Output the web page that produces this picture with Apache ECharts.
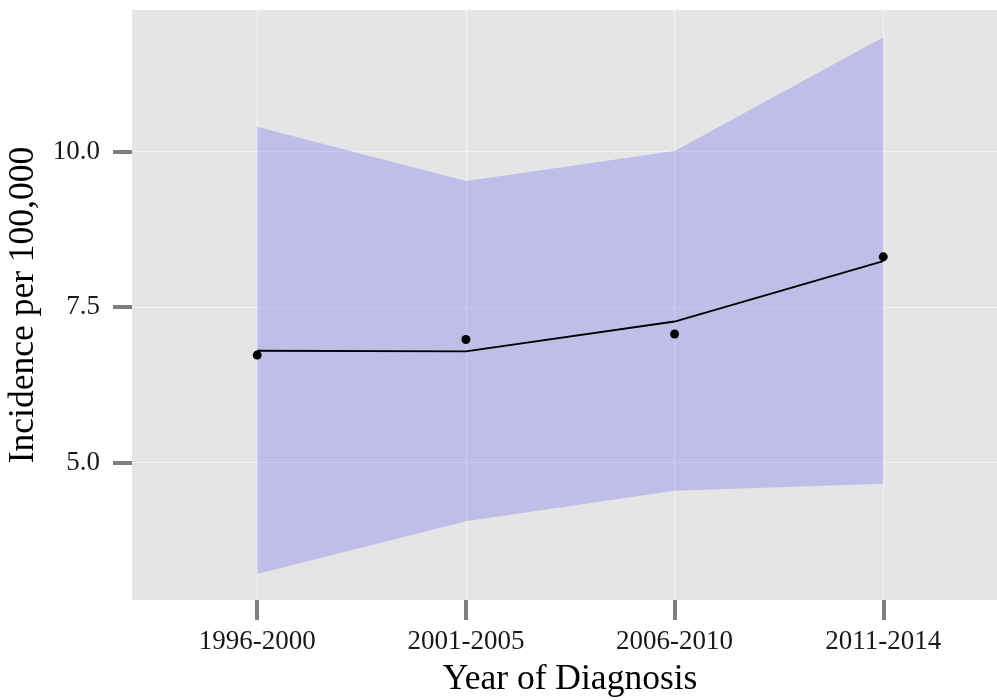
<!DOCTYPE html>
<html>
<head>
<meta charset="utf-8">
<style>
  html, body { margin: 0; padding: 0; background: #ffffff; }
  #chart { width: 997px; height: 700px; }
</style>
<script src="https://cdn.jsdelivr.net/npm/echarts@6/dist/echarts.min.js"></script>
</head>
<body>
<div id="chart"></div>
<script>
// Diagnosis periods shown along the x axis
const periods = ['1996-2000', '2001-2005', '2006-2010', '2011-2014'];
// Observed incidence per 100,000 (points)
const observed = [6.73, 6.98, 7.07, 8.31];
// Fitted trend (line)
const fitted = [6.80, 6.79, 7.27, 8.24];
// Confidence band limits
const lowerCI = [3.21, 4.06, 4.55, 4.66];
const upperCI = [10.40, 9.53, 10.01, 11.84];
// Y axis tick values
const yTicks = [5.0, 7.5, 10.0];

const idx = periods.map((_, i) => i);
const serif = '"Liberation Serif", "DejaVu Serif", serif';

// Ribbon polygon: upper limits left to right, then lower limits right to left
function renderBand(params, api) {
  if (params.dataIndex !== 0) return null;
  const pts = [];
  idx.forEach(i => pts.push(api.coord([i, upperCI[i]])));
  idx.slice().reverse().forEach(i => pts.push(api.coord([i, lowerCI[i]])));
  return {
    type: 'polygon',
    shape: { points: pts },
    style: { fill: 'rgba(0,0,255,0.17)' },
    silent: true
  };
}

const chart = echarts.init(document.getElementById('chart'));
chart.setOption({
  animation: false,
  grid: {
    left: 132, right: 0, top: 10, bottom: 100,
    outerBoundsMode: 'none',
    containLabel: false,
    show: true, backgroundColor: '#e5e5e5', borderWidth: 0
  },
  xAxis: {
    type: 'value',
    min: -0.6, max: 3.545,
    name: 'Year of Diagnosis',
    nameLocation: 'middle',
    nameGap: 62,
    nameTextStyle: { fontFamily: serif, fontSize: 35.5, color: '#000', padding: [0, 0, 0, 11] },
    axisLine: { show: false, onZero: false },
    axisTick: {
      show: true, length: 20, inside: false, customValues: idx,
      lineStyle: { color: '#7f7f7f', width: 4 }
    },
    axisLabel: {
      customValues: idx,
      margin: 28,
      fontFamily: serif, fontSize: 27, color: '#1a1a1a',
      formatter: v => periods[Math.round(v)]
    },
    splitLine: { show: true, lineStyle: { color: '#f2f2f2', width: 1.2 } }
  },
  yAxis: {
    type: 'value',
    min: 2.793, max: 12.278,
    name: 'Incidence per 100,000',
    nameLocation: 'middle',
    nameGap: 88,
    nameRotate: 90,
    nameTextStyle: { fontFamily: serif, fontSize: 35.5, color: '#000' },
    axisLine: { show: false, onZero: false },
    axisTick: {
      show: true, length: 19, inside: false, customValues: yTicks,
      lineStyle: { color: '#7f7f7f', width: 4 }
    },
    axisLabel: {
      customValues: yTicks,
      margin: 32,
      fontFamily: serif, fontSize: 27, color: '#1a1a1a',
      formatter: v => v.toFixed(1)
    },
    splitLine: { show: true, lineStyle: { color: '#f2f2f2', width: 1.2 } }
  },
  series: [
    {
      name: 'band',
      type: 'custom',
      renderItem: renderBand,
      data: idx.map(i => [i, upperCI[i], lowerCI[i]]),
      encode: { x: 0, y: [1, 2] },
      z: 2
    },
    {
      name: 'fitted',
      type: 'line',
      data: idx.map(i => [i, fitted[i]]),
      symbol: 'none',
      lineStyle: { color: '#000', width: 1.8 },
      z: 5
    },
    {
      name: 'observed',
      type: 'scatter',
      data: idx.map(i => [i, observed[i]]),
      symbolSize: 9,
      itemStyle: { color: '#000', opacity: 1 },
      z: 6
    }
  ]
});
</script>
</body>
</html>
